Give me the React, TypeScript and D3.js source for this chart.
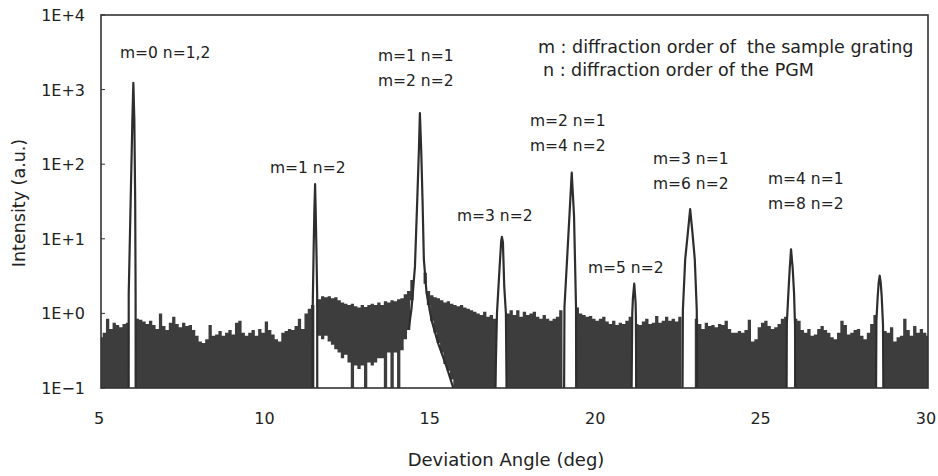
import React from "react";
import * as d3 from "d3";

// noise envelope, one value every 0.1 deg from 5.0 (null = gap under a peak)
const noiseStart = 5;
const noiseStep = 0.1;
const noiseTop = [
  [0.48, 0.55, 0.85, 0.62, 0.75, 0.7, 0.65, 0.72, 0.75, null],
  [null, 0.85, 0.82, 0.78, 0.72, 0.8, 0.7, 0.62, 1.0, 0.68],
  [0.6, 0.75, 0.9, 0.72, 0.65, 0.75, 0.68, 0.7, 0.6, 0.5],
  [0.42, 0.4, 0.45, 0.7, 0.5, 0.52, 0.58, 0.5, 0.55, 0.6],
  [0.52, 0.75, 0.8, 0.55, 0.5, 0.55, 0.6, 0.5, 0.62, 0.55],
  [0.78, 0.6, 0.52, 0.45, 0.42, 0.55, 0.58, 0.62, 0.6, 0.68],
  [0.85, 0.62, 1.0, 1.15, 1.3, null, 1.55, 1.7, 1.65, 1.7],
  [1.6, 1.65, 1.5, 1.4, 1.35, 1.3, 1.35, 1.25, 1.2, 1.3],
  [1.22, 1.3, 1.35, 1.3, 1.4, 1.3, 1.45, 1.4, 1.5, 1.45],
  [1.55, 1.6, 1.8, 2.0, 2.8, null, null, null, 3.5, 2.0],
  [1.75, 1.65, 1.6, 1.5, 1.4, 1.45, 1.35, 1.3, 1.25, 1.3],
  [1.2, 1.15, 1.1, 1.05, 1.0, 0.95, 1.05, 0.9, 0.95, 0.85],
  [null, null, null, 1.0, 1.1, 0.95, 1.1, 0.9, 1.05, 0.95],
  [1.0, 1.05, 0.9, 0.85, 0.95, 0.85, 0.8, 0.85, 0.9, 1.1],
  [null, null, null, null, 1.2, 1.0, 0.95, 0.9, 0.92, 0.85],
  [0.8, 0.85, 0.9, 0.78, 0.72, 0.8, 0.7, 0.75, 0.72, 0.8],
  [0.9, null, 0.72, 0.7, 0.78, 0.85, 0.72, 0.75, 0.92, 0.75],
  [0.8, 0.9, 0.8, 0.85, 0.78, 0.9, null, null, null, null],
  [0.85, 0.72, 0.62, 0.75, 0.68, 0.7, 0.65, 0.72, 0.7, 0.8],
  [0.62, 0.55, 0.55, 0.58, 0.55, 0.6, 0.82, 0.42, 0.45, 0.65],
  [0.75, 0.8, 0.68, 0.62, 0.65, 0.72, 0.85, 0.9, null, null],
  [0.85, 0.8, 0.6, 0.55, 0.62, 0.5, 0.52, 0.62, 0.68, 0.6],
  [0.55, 0.48, 0.45, 0.55, 0.8, 0.7, 0.52, 0.55, 0.6, 0.62],
  [0.5, 0.45, 0.55, 0.72, 0.95, null, null, 0.58, 0.55, 0.65],
  [0.42, 0.48, 0.5, 0.85, 0.6, 0.5, 0.68, 0.55, 0.62, 0.55],
  [0.5],
].flat();

// where the bottom of the noise does not reach zero counts: [angle, lowest value]
const raisedFloor = [
  [11.6, 0.5], [11.7, 0.45], [11.8, 0.5], [11.9, 0.42], [12.0, 0.38], [12.1, 0.33],
  [12.2, 0.3], [12.3, 0.25], [12.4, 0.28], [12.5, 0.22], [12.7, 0.2], [12.8, 0.18],
  [12.9, 0.2], [13.1, 0.22], [13.2, 0.2], [13.3, 0.22], [13.4, 0.25], [13.5, 0.25],
  [13.7, 0.3], [13.9, 0.3], [14.1, 0.32], [14.2, 0.45], [14.3, 0.6], [14.4, 1.5],
  [14.8, 2.5], [14.9, 1.3], [15.0, 0.8], [15.1, 0.55], [15.2, 0.4], [15.3, 0.3],
  [15.4, 0.21], [15.5, 0.17], [15.6, 0.13],
];

// peak outlines: [angle (deg), intensity]
const peak1 = [[5.836, 0.1], [5.838, 1.8], [5.897, 33], [5.948, 390], [5.978, 1230], [6.008, 390], [6.033, 33], [6.046, 1.8], [6.048, 0.1]];
const peak2 = [[11.395, 0.1], [11.4, 1.2], [11.43, 8], [11.45, 24], [11.472, 54], [11.49, 24], [11.51, 8], [11.535, 1.8], [11.537, 0.1]];
const peak3 = [[14.3, 0.6], [14.39, 1.2], [14.49, 4.2], [14.56, 33], [14.61, 155], [14.64, 485], [14.68, 155], [14.72, 33], [14.76, 5.3], [14.84, 1.9], [14.99, 0.82], [15.19, 0.4], [15.45, 0.19], [15.65, 0.1]];
const peak4 = [[16.92, 0.1], [16.97, 1.0], [17.05, 4.2], [17.1, 9.6], [17.12, 10.6], [17.15, 9], [17.19, 2.3], [17.24, 1.0], [17.26, 0.1]];
const peak5 = [[19.0, 0.1], [19.01, 1.2], [19.16, 20], [19.23, 77], [19.3, 20], [19.36, 1.2], [19.365, 0.1]];
const peak6 = [[21.04, 0.1], [21.06, 1.0], [21.08, 1.6], [21.12, 2.5], [21.16, 1.4], [21.17, 0.9], [21.18, 0.1]];
const peak7 = [[22.58, 0.1], [22.59, 1.1], [22.66, 5.3], [22.74, 12], [22.81, 25], [22.88, 12], [22.95, 5.3], [23.01, 1.1], [23.02, 0.1]];
const peak8 = [[25.72, 0.1], [25.73, 0.7], [25.78, 1.9], [25.82, 4.0], [25.86, 7.2], [25.91, 4.0], [25.95, 1.9], [25.98, 0.7], [25.99, 0.1]];
const peak9 = [[28.43, 0.1], [28.44, 0.8], [28.48, 1.7], [28.51, 2.6], [28.54, 3.2], [28.57, 2.6], [28.6, 1.7], [28.64, 0.7], [28.65, 0.1]];
const peaks = [peak1, peak2, peak3, peak4, peak5, peak6, peak7, peak8, peak9];

const yTickValues = [0.1, 1, 10, 100, 1000, 10000];
const yTickLabels = ["1E\u22121", "1E+0", "1E+1", "1E+2", "1E+3", "1E+4"];
const xTickValues = [5, 10, 15, 20, 25, 30];

const peakLabels = [
  ["m=0 n=1,2"],
  ["m=1 n=2"],
  ["m=1 n=1", "m=2 n=2"],
  ["m=3 n=2"],
  ["m=2 n=1", "m=4 n=2"],
  ["m=5 n=2"],
  ["m=3 n=1", "m=6 n=2"],
  ["m=4 n=1", "m=8 n=2"],
];
const legendLines = ["m : diffraction order of  the sample grating", "n : diffraction order of the PGM"];

// layout: left edge / first baseline of each label block (px)
const labelPos = [
  [120, 57.5], [270, 172.5], [378, 60.5], [457, 220.5], [530, 125.5], [588, 272.5], [653, 163.5], [768, 183.5],
];
const legendPos = [[538, 53], [543, 76]];

const W = 938;
const H = 476;
const left = 101, right = 928, top = 15, bottom = 388;
const font = "'DejaVu Sans', sans-serif";
const ink = "#222";

export default function App() {
  const x = d3.scaleLinear().domain([5, 30]).range([left, right]);
  const y = d3.scaleLog().domain([0.1, 10000]).range([bottom, top]);

  const floorMap = new Map(raisedFloor.map(([a, v]) => [a.toFixed(1), v]));
  const half = noiseStep / 2;
  const pts: { a: number; hi: number | null; lo: number }[] = [];
  noiseTop.forEach((v, i) => {
    const a = noiseStart + i * noiseStep;
    const lo = floorMap.get(a.toFixed(1)) ?? 0.1;
    pts.push({ a: a - half, hi: v, lo });
    pts.push({ a: a + half, hi: v, lo });
  });

  const area = d3
    .area<{ a: number; hi: number | null; lo: number }>()
    .defined((d) => d.hi != null)
    .x((d) => x(d.a))
    .y0((d) => y(d.lo))
    .y1((d) => y(d.hi as number));

  const line = d3
    .line<number[]>()
    .x((d) => x(d[0]))
    .y((d) => y(d[1]));

  return (
    <svg width={W} height={H} style={{ position: "absolute", left: 0, top: 0, background: "#fff" }}>
      <defs>
        <clipPath id="plot">
          <rect x={left} y={top} width={right - left} height={bottom - top} />
        </clipPath>
      </defs>
      <g clipPath="url(#plot)">
        <path d={area(pts) ?? ""} fill="#3d3d3d" />
        {peaks.map((p, i) => (
          <path key={i} d={line(p) ?? ""} fill="none" stroke="#2e2e2e" strokeWidth={2.2} strokeLinejoin="round" />
        ))}
      </g>
      <rect x={left} y={top} width={right - left} height={bottom - top} fill="none" stroke="#333" strokeWidth={1.6} />
      {yTickValues.map((v, i) => (
        <g key={v}>
          <line x1={left} x2={left + 4} y1={y(v)} y2={y(v)} stroke="#333" strokeWidth={1} />
          <text x={left - 16} y={y(v) + 6} textAnchor="end" fontFamily={font} fontSize={16} fill={ink}>
            {yTickLabels[i]}
          </text>
        </g>
      ))}
      {xTickValues.map((v) => (
        <text key={v} x={x(v) - 2} y={424} textAnchor="middle" fontFamily={font} fontSize={16} fill={ink}>
          {v}
        </text>
      ))}
      <text x={506} y={466} textAnchor="middle" fontFamily={font} fontSize={18} fill={ink}>
        Deviation Angle (deg)
      </text>
      <text transform="translate(25,203) rotate(-90)" textAnchor="middle" fontFamily={font} fontSize={17.5} fill={ink}>
        Intensity (a.u.)
      </text>
      {peakLabels.map((lines, i) =>
        lines.map((t, j) => (
          <text key={`${i}-${j}`} x={labelPos[i][0]} y={labelPos[i][1] + j * 25} fontFamily={font} fontSize={15.5} fill={ink}>
            {t}
          </text>
        ))
      )}
      {legendLines.map((t, i) => (
        <text key={t} x={legendPos[i][0]} y={legendPos[i][1]} fontFamily={font} fontSize={17.5} fill={ink} style={{ whiteSpace: "pre" }}>
          {t}
        </text>
      ))}
    </svg>
  );
}
